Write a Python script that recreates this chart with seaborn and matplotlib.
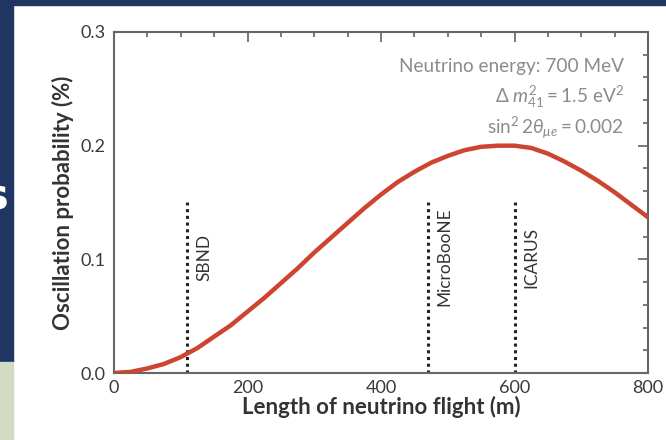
import matplotlib
matplotlib.use("Agg")
import matplotlib.pyplot as plt
import seaborn as sns
import pandas as pd
from matplotlib.patches import Rectangle
from matplotlib.ticker import MultipleLocator, FormatStrFormatter

# ---- data ----
length_m = [0, 25, 50, 75, 100, 125, 150, 175, 200, 225, 250, 275, 300, 325, 350, 375,
            400, 425, 450, 475, 500, 525, 550, 575, 600, 625, 650, 675, 700, 725, 750,
            775, 800]
probability_pct = [0.000, 0.001, 0.004, 0.008, 0.014, 0.022, 0.032, 0.042, 0.054, 0.066,
                   0.079, 0.092, 0.106, 0.119, 0.132, 0.145, 0.157, 0.168, 0.177, 0.185,
                   0.191, 0.196, 0.199, 0.200, 0.200, 0.198, 0.193, 0.186, 0.178, 0.169,
                   0.159, 0.148, 0.137]
detectors = ["SBND", "MicroBooNE", "ICARUS"]
detector_pos_m = [110, 470, 600]
detector_line_top = 0.15
detector_label_y = 0.102
info_lines = ["Neutrino energy: 700 MeV",
              r"$\Delta\ m^{2}_{41} = 1.5\ \mathrm{eV}^{2}$",
              r"$\sin^{2}2\theta_{\mu e} = 0.002$"]
x_ticks = [0, 200, 400, 600, 800]
y_ticks = [0.0, 0.1, 0.2, 0.3]

sns.set_theme(style="white")
plt.rcParams["font.family"] = ["Lato", "DejaVu Sans"]
plt.rcParams["mathtext.fontset"] = "custom"
plt.rcParams["mathtext.rm"] = "Lato"
plt.rcParams["mathtext.it"] = "Lato:italic"
plt.rcParams["mathtext.bf"] = "Lato:bold"

W, H = 666, 440
fig = plt.figure(figsize=(W / 100, H / 100), dpi=100, facecolor="white")

# slide background pieces
navy = "#1f3562"
fig.add_artist(Rectangle((0, 1 - 5 / H), 1, 5 / H, transform=fig.transFigure, color=navy, zorder=-5))
fig.add_artist(Rectangle((0, 1 - 362 / H), 13 / W, 362 / H, transform=fig.transFigure, color=navy, zorder=-5))
fig.add_artist(Rectangle((0, 0), 13 / W, 78 / H, transform=fig.transFigure, color="#d4dbc3", zorder=-5))
fig.text(9 / W, 1 - 198 / H, "s", color="white", fontsize=30, fontweight="bold",
         ha="right", va="center", family="DejaVu Sans")

ax = fig.add_axes([114 / W, 1 - 373 / H, (648 - 114) / W, (373 - 32) / H])
ax.set_facecolor("white")

df = pd.DataFrame({"L": length_m, "P": probability_pct})
sns.lineplot(data=df, x="L", y="P", ax=ax, color="#cd4430", linewidth=3.2, zorder=3)

for name, pos in zip(detectors, detector_pos_m):
    ax.plot([pos, pos], [0, detector_line_top], color="#222222", linestyle=(0, (1, 1.2)),
            linewidth=2.2, zorder=2)
    ax.annotate(name, xy=(pos, detector_label_y), xytext=(12, 0), textcoords="offset points",
                rotation=90, ha="center", va="center", fontsize=12.4, color="#333333")

ax.set_xlim(0, 800)
ax.set_ylim(0, 0.3)
ax.set_xticks(x_ticks)
ax.set_yticks(y_ticks)
ax.xaxis.set_minor_locator(MultipleLocator(50))
ax.yaxis.set_minor_locator(MultipleLocator(0.02))
ax.yaxis.set_major_formatter(FormatStrFormatter("%.1f"))
ax.tick_params(which="both", direction="in", top=True, right=True, color="#555555",
               labelsize=13, labelcolor="#3a3a3a", width=1.1)
ax.tick_params(which="major", length=7)
ax.tick_params(axis="x", which="major", pad=5)
ax.tick_params(axis="y", which="major", pad=6)
ax.tick_params(which="minor", length=3.5)
for s in ax.spines.values():
    s.set_color("#666666")
    s.set_linewidth(1.5)

ax.set_xlabel("Length of neutrino flight (m)", fontsize=16, fontweight="bold",
              color="#333333", labelpad=0)
ax.set_ylabel("Oscillation probability (%)", fontsize=16, fontweight="bold",
              color="#333333", labelpad=5)

for i, line in enumerate(info_lines):
    ax.text(0.955, 0.9 - i * 0.09, line, transform=ax.transAxes, ha="right", va="center",
            fontsize=13.7, color="#8c8c8c")

fig.savefig("out.png", dpi=100, facecolor="white")
